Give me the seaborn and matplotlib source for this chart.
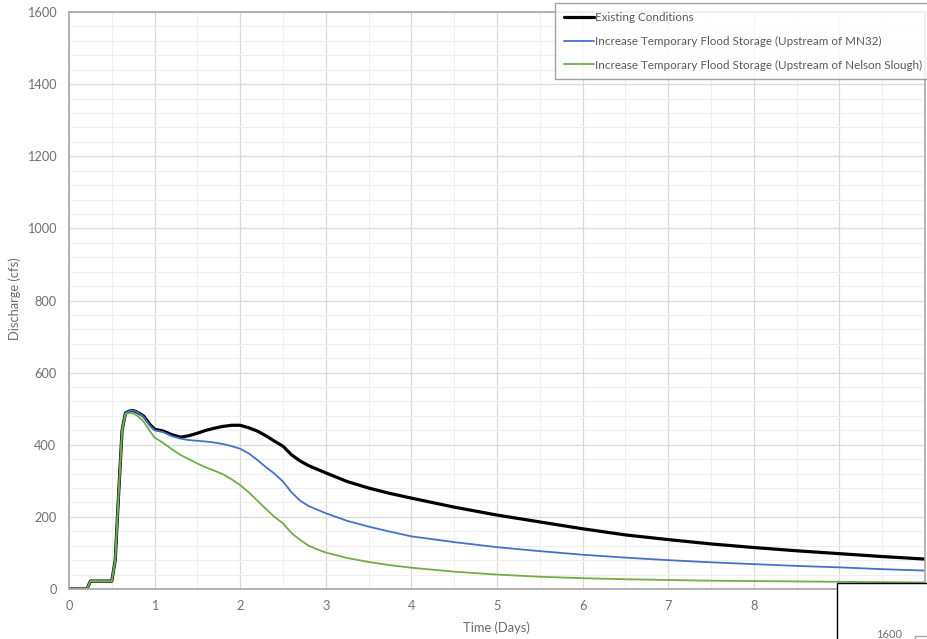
import numpy as np
import pandas as pd
import matplotlib
matplotlib.use("Agg")
import matplotlib.pyplot as plt
import seaborn as sns
from matplotlib.patches import Rectangle
from matplotlib.lines import Line2D
from matplotlib.ticker import MultipleLocator

days = [0, 0.21, 0.25, 0.5, 0.54, 0.58, 0.62, 0.66, 0.7, 0.75, 0.8, 0.87, 0.95, 1.0,
        1.1, 1.2, 1.3, 1.4, 1.5, 1.6, 1.7, 1.8, 1.9, 2.0,
        2.1, 2.2, 2.3, 2.4, 2.5, 2.6, 2.7, 2.8, 2.9, 3.0,
        3.25, 3.5, 3.75, 4.0, 4.5, 5.0, 5.5, 6.0, 6.5, 7.0, 7.5, 8.0, 8.5, 9.0, 9.5, 10.0]

existing = [0, 0, 22, 22, 80, 265, 440, 488, 493, 495, 490, 480, 455, 443,
            438, 428, 421, 425, 432, 440, 446, 451, 454, 454,
            447, 438, 425, 410, 396, 372, 355, 342, 332, 322,
            298, 280, 265, 252, 227, 205, 186, 167, 150, 137, 125, 115, 106, 98, 90, 83]

mn32 = [0, 0, 22, 22, 80, 265, 440, 488, 493, 495, 490, 478, 452, 440,
        435, 424, 417, 413, 411, 409, 406, 402, 396, 389,
        376, 358, 338, 320, 298, 268, 245, 230, 220, 210,
        189, 173, 159, 146, 130, 116, 105, 95, 87, 80, 74, 69, 64, 60, 55, 51]

nelson = [0, 0, 22, 22, 80, 265, 440, 485, 488, 487, 480, 465, 436, 420,
          405, 388, 372, 360, 348, 337, 328, 318, 304, 288,
          268, 245, 222, 200, 182, 155, 136, 120, 110, 101,
          86, 75, 66, 59, 48, 40, 34, 30, 27, 25, 23, 22, 21, 20, 19, 18]

series_names = ["Existing Conditions",
                "Increase Temporary Flood Storage (Upstream of MN32)",
                "Increase Temporary Flood Storage (Upstream of Nelson Slough)"]
colors = ["#000000", "#4472C4", "#70AD47"]
widths = [2.3, 1.3, 1.3]

x_ticks = [0, 1, 2, 3, 4, 5, 6, 7, 8, 9, 10]
x_labels = ["0", "1", "2", "3", "4", "5", "6", "7", "8", "", ""]  # 9 and 10 hidden by overlapping box
y_ticks = [0, 200, 400, 600, 800, 1000, 1200, 1400, 1600]

sns.set_theme(style="white")
plt.rcParams['font.family'] = ['Lato', 'DejaVu Sans']

fig = plt.figure(figsize=(9.27, 6.39), dpi=100)
ax = fig.add_axes([69/927, 1-589/639, (925-69)/927, (589-12)/639])

for name, vals, c, lw in zip(series_names, [existing, mn32, nelson], colors, widths):
    df = pd.DataFrame({"Time (Days)": days, "Discharge (cfs)": vals})
    sns.lineplot(data=df, x="Time (Days)", y="Discharge (cfs)", ax=ax,
                 color=c, linewidth=lw, label=name, solid_joinstyle="round")

ax.set_xlim(0, 10)
ax.set_ylim(0, 1600)
ax.set_xticks(x_ticks)
ax.set_xticklabels(x_labels)
ax.set_yticks(y_ticks)
ax.xaxis.set_minor_locator(MultipleLocator(0.5))
ax.yaxis.set_minor_locator(MultipleLocator(40))
ax.grid(which="major", color="#d9d9d9", linewidth=0.9)
ax.grid(which="minor", color="#eeeeee", linewidth=0.7)
ax.set_axisbelow(True)
ax.tick_params(which="both", length=0, colors="#707070", labelsize=9.2)
ax.tick_params(axis="y", pad=9)
ax.tick_params(axis="x", pad=8)
for s in ax.spines.values():
    s.set_color("#a6a6a6")
    s.set_linewidth(1.2)

ax.set_xlabel("Time (Days)", fontsize=9.3, color="#6a6a6a")
ax.set_ylabel("Discharge (cfs)", fontsize=9.3, color="#6a6a6a")
ax.xaxis.set_label_coords((496-69)/856, -(628-589)/577)
ax.yaxis.set_label_coords(-(69-15)/856, (589-299)/577)
ax.xaxis.label.set_va("center")
ax.yaxis.label.set_va("center")

leg = ax.legend(loc="upper left", bbox_to_anchor=(555/927, 1-3/639),
                bbox_transform=fig.transFigure, fontsize=8.4, frameon=True,
                fancybox=False, handlelength=2.6, handletextpad=0.05,
                labelspacing=1.1, borderpad=0.75, borderaxespad=0)
leg.get_frame().set_edgecolor("#8c8c8c")
leg.get_frame().set_linewidth(1.0)
for t in leg.get_texts():
    t.set_color("#595959")
leg.set_zorder(20)

# fragment of an adjacent chart at bottom right
fig.add_artist(Rectangle((837/927, -0.01), 0.2, (639-583)/639 + 0.01,
                         transform=fig.transFigure, facecolor="white",
                         edgecolor="black", linewidth=1.0, zorder=30))
fig.text(889/927, 1-634/639, "1600", fontsize=8, color="#707070",
         ha="center", va="center", zorder=31)
fig.add_artist(Line2D([915/927, 927/927], [1-636/639, 1-636/639],
                      transform=fig.transFigure, color="#a6a6a6", lw=1, zorder=31))
fig.add_artist(Line2D([915/927, 915/927], [1-636/639, 0],
                      transform=fig.transFigure, color="#a6a6a6", lw=1, zorder=31))

fig.savefig("out.png", dpi=100)
